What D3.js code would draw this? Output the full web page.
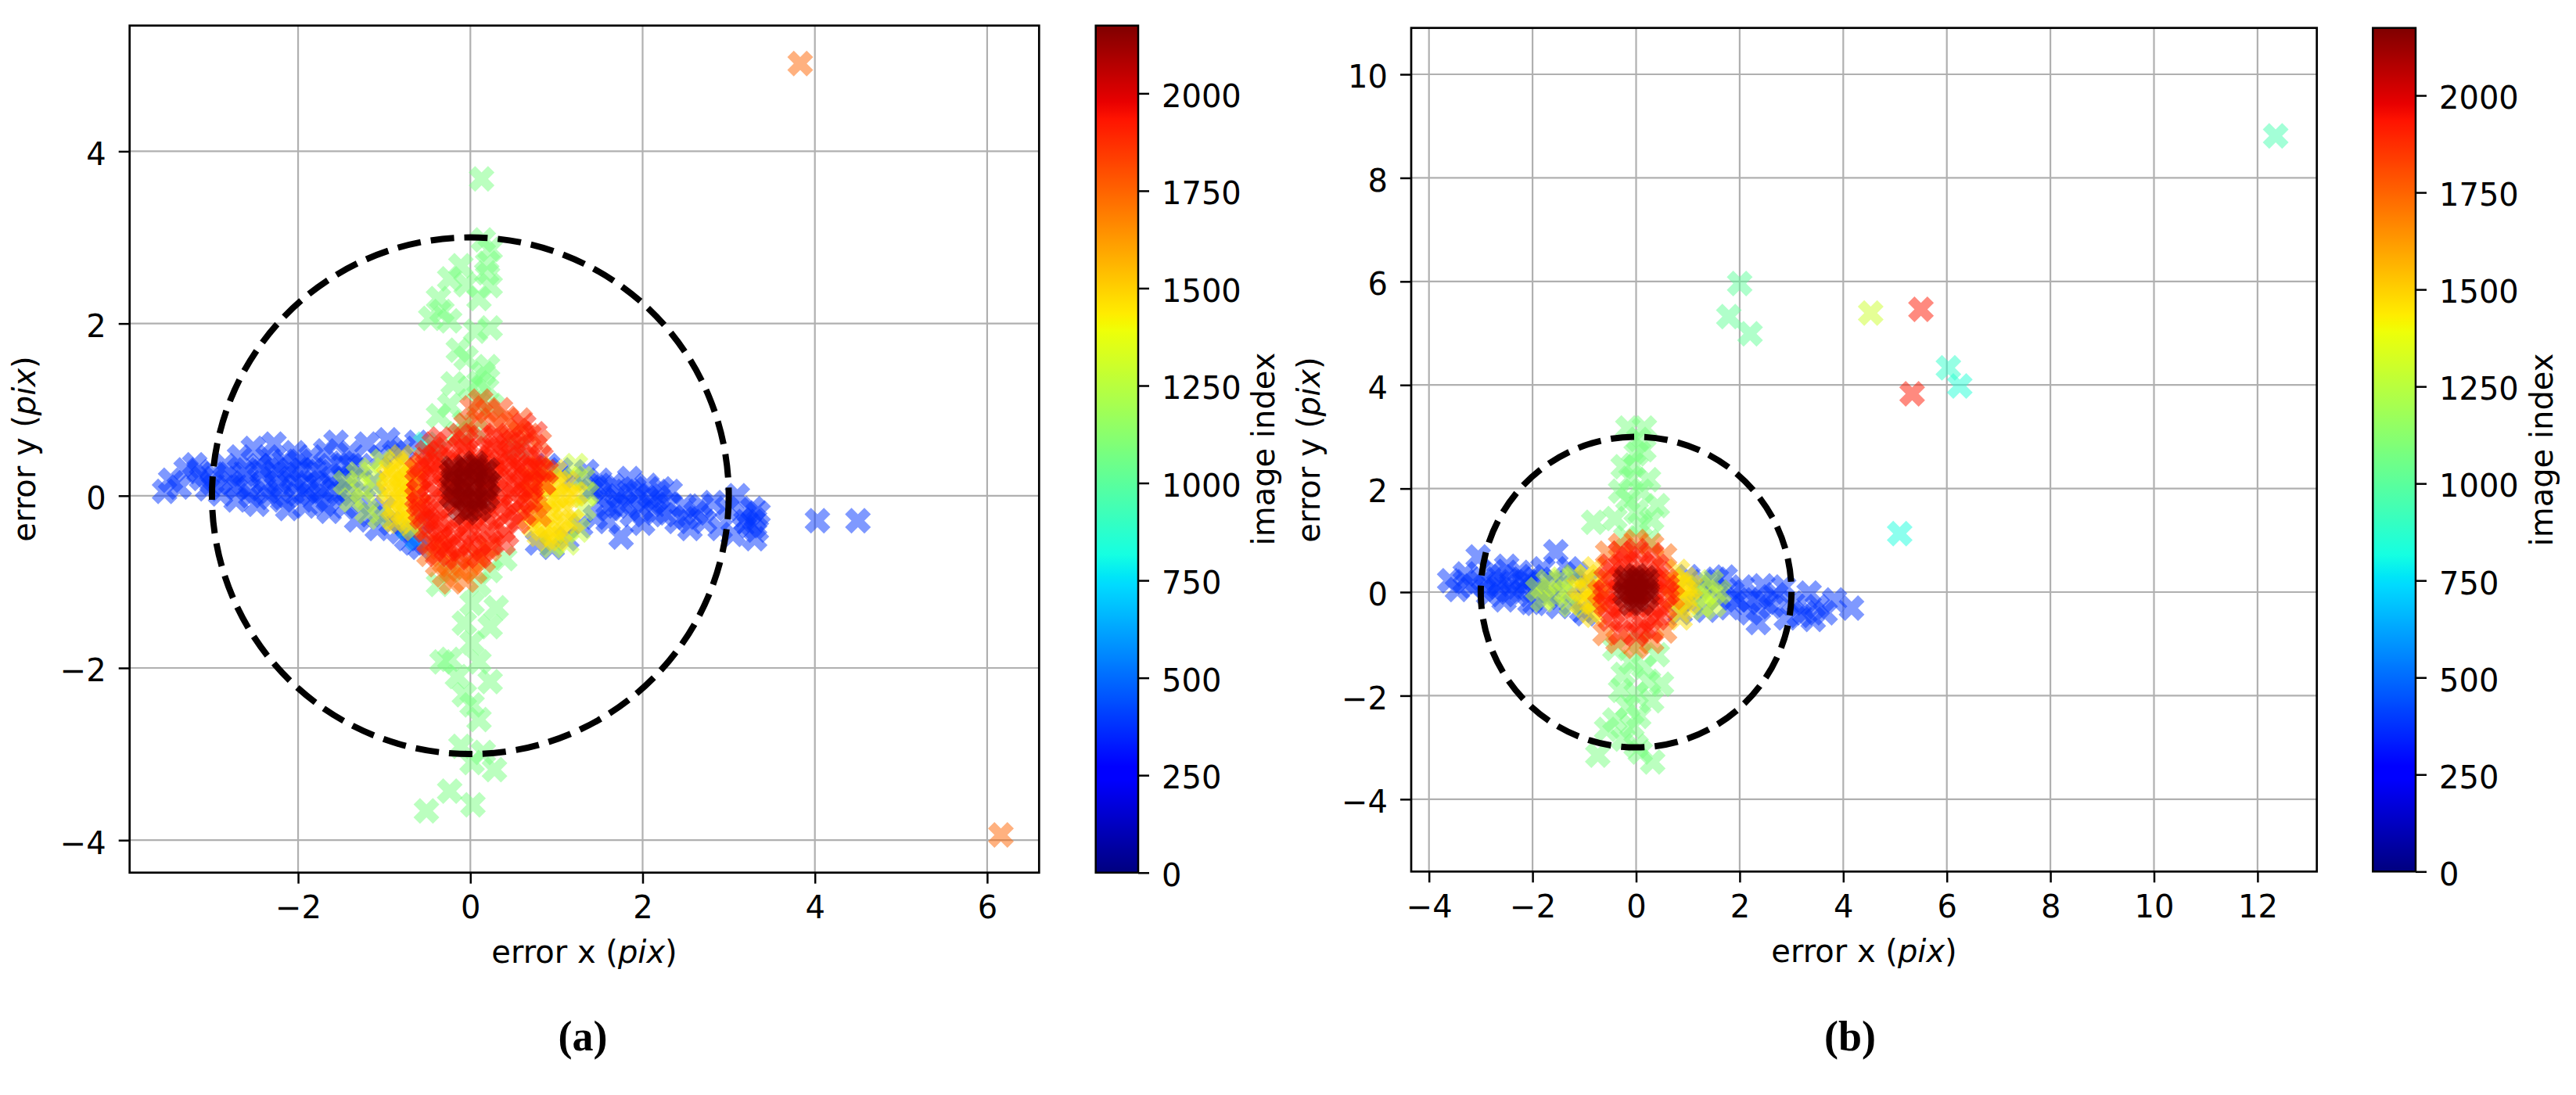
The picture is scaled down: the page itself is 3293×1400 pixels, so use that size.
<!DOCTYPE html>
<html><head><meta charset="utf-8">
<script src="https://cdn.jsdelivr.net/npm/d3@7"></script>
<style>
body{margin:0;background:#fff}
svg{display:block}
text{font-family:"DejaVu Sans",sans-serif;fill:#000}
</style>
</head><body>
<svg id="fig" width="3293" height="1400"></svg>
<script>
// ---------------- DATA ----------------
const imageIndexMax = 2174;
const circleRadius = 3;
const cbarTicks = [0,250,500,750,1000,1250,1500,1750,2000];

// panel (a)
const aXTicks = [-2,0,2,4,6];
const aYTicks = [-4,-2,0,2,4];
const aBlueIndex = 380;
const aBlue = [
 [-3.55,0.05],[-3.48,0.18],[-3.38,0.1],[-3.3,0.3],[-3.2,0.36],[-3.12,0.2],[-3.05,0.08],[-2.98,0.25],
 [-2.9,0.02],[-2.85,0.35],[-2.78,0.15],[-2.72,-0.05],[-2.68,0.45],[-2.62,0.25],[-2.58,0.08],[-2.52,0.55],
 [-2.48,-0.1],[-2.45,0.35],[-2.4,0.15],[-2.35,0.45],[-2.32,-0.02],[-2.28,0.6],[-2.25,0.25],[-2.2,0.05],
 [-2.16,0.4],[-2.12,-0.15],[-2.08,0.2],[-2.04,0.5],[-2.0,0.02],[-1.96,0.3],[-1.92,-0.12],[-1.88,0.15],
 [-1.85,0.45],[-1.8,-0.05],[-1.76,0.28],[-1.72,0.05],[-1.68,0.52],[-1.64,-0.18],[-1.6,0.2],[-1.56,0.62],
 [-1.52,0.02],[-1.48,0.38],[-1.45,-0.12],[-1.4,0.5],[-1.36,0.18],[-1.32,-0.28],[-1.28,0.35],[-1.24,-0.05],
 [-1.2,0.6],[-1.16,-0.22],[-1.12,0.15],[-1.08,-0.38],[-1.04,0.45],[-1.0,-0.15],[-0.96,0.65],[-0.92,-0.32],
 [-0.88,0.5],[-0.82,-0.42],[-0.74,-0.5],[-0.66,-0.55],[-0.58,-0.6],[-0.62,0.62],[-0.78,0.55],
 [-2.6,0.3],[-2.55,0.0],[-2.42,0.28],[-2.38,0.05],[-2.3,0.35],[-2.22,0.15],[-2.18,-0.05],[-2.1,0.3],
 [-2.02,0.12],[-1.98,0.4],[-1.9,0.05],[-1.82,0.3],[-1.78,0.12],[-1.7,-0.1],[-1.62,0.35],[-1.58,0.08],
 [-1.5,0.25],[-1.42,0.05],[-1.38,0.35],[-3.0,0.15],[-3.15,0.28],[-2.8,0.25],[-2.7,0.1],
 [0.78,-0.55],[0.9,0.35],[0.95,-0.6],[1.05,0.3],[1.12,-0.5],[1.2,0.2],[1.28,-0.35],[1.35,0.28],[1.4,0.05],[1.45,-0.25],
 [1.5,0.18],[1.55,-0.05],[1.6,-0.3],[1.65,0.12],[1.7,-0.12],[1.75,-0.48],[1.8,0.05],[1.85,0.2],[1.88,-0.22],[1.95,0.0],
 [2.0,-0.32],[2.05,0.12],[2.1,-0.1],[2.18,-0.02],[2.25,-0.22],[2.32,0.05],[2.4,-0.3],[2.48,-0.12],[2.55,-0.38],[2.62,-0.2],
 [2.72,-0.3],[2.82,-0.08],[2.9,-0.38],[2.98,-0.15],[3.05,-0.45],[3.1,0.0],[3.18,-0.22],[3.24,-0.35],[3.3,-0.5],[3.34,-0.2],[3.3,-0.28],
 [1.45,0.1],[1.55,0.1],[1.62,-0.15],[1.72,0.0],[1.8,-0.1],[1.9,0.08],[1.98,-0.15],[2.08,0.0],[2.15,-0.2],
 [2.22,0.08],[2.3,-0.1],[2.5,-0.25],[2.68,-0.12],[3.2,-0.3],[3.28,-0.15],[3.32,-0.4],
 [4.03,-0.29],[4.5,-0.29]
];
const aAzureIndex = 600;
const aAzure = [[-0.72,-0.38],[-0.62,-0.5],[-0.55,-0.3]];
const aCyanIndex = 880;
const aCyan = [[-0.52,0.6],[-0.42,0.52],[0.55,0.55]];
const aGreenIndex = 1075;
const aGreen = [
 [0.13,3.68],[0.15,2.97],[0.23,2.86],[0.19,2.59],[-0.11,2.67],[-0.24,2.52],[0.1,2.29],[0.23,2.44],[-0.37,2.29],
 [-0.46,2.06],[-0.24,2.03],[-0.33,2.14],[0.06,1.91],[0.23,1.95],[-0.14,1.69],[0.15,1.42],[0.19,1.24],[0.1,1.08],
 [-0.24,1.05],[-0.07,0.85],[-0.37,0.93],[0.1,1.31],[0.2,1.5],[-0.05,2.45],[0.2,2.7],[-0.05,1.6],[0.0,1.25],[0.25,1.05],[-0.2,1.3],
 [-0.24,-0.87],[-0.37,-1.03],[0.1,-1.03],[0.4,-0.73],[0.23,-0.87],[0.02,-1.25],[-0.07,-1.48],[0.23,-1.52],[0.02,-1.71],
 [-0.24,-1.9],[-0.33,-1.93],[0.1,-1.93],[0.23,-2.16],[-0.07,-2.31],[0.02,-2.43],[-0.11,-2.91],[0.02,-3.1],[0.28,-3.18],
 [-0.24,-3.43],[0.03,-3.59],[-0.51,-3.66],[0.15,-2.98],[0.3,-1.3],[-0.15,-2.1],[0.1,-2.6],
 [-0.15,0.72],[0.05,0.76]
];
const aLimeIndex = 1290;
const aLime = [
 [-1.45,0.15],[-1.38,-0.05],[-1.3,0.25],[-1.25,0.05],[-1.2,-0.18],[-1.15,0.3],[-1.1,0.1],[-1.05,-0.25],[-1.02,0.4],
 [1.3,0.2],[1.32,-0.15],[1.22,0.35],[1.12,-0.55],[0.95,-0.58],[1.35,0.02],[1.25,-0.4]
];
const aYellowIndex = 1470;
const aYellow = [
 [-0.95,0.05],[-0.92,0.3],[-0.9,-0.15],[-0.85,0.2],[-0.82,-0.3],[-0.8,0.45],[-0.78,-0.05],[-0.75,0.15],
 [-0.72,-0.22],[-0.7,0.35],[-0.68,0.0],[-0.65,-0.38],[-0.62,0.22],[-0.6,-0.12],
 [-0.92,0.15],[-0.88,-0.05],[-0.86,0.38],[-0.8,0.1],[-0.78,-0.2],[-0.74,0.28],[-0.72,0.05],[-0.7,-0.32],
 [-0.66,0.15],[-0.88,-0.28],[-0.95,0.22],
 [0.68,-0.25],[0.72,0.2],[0.78,-0.05],[0.8,0.32],[0.84,-0.38],[0.88,0.1],[0.9,-0.5],[0.94,-0.2],
 [0.98,0.28],[1.0,0.0],[1.04,-0.42],[1.08,-0.15],[1.12,0.15],[1.18,-0.3],[1.22,0.02],[0.86,-0.18],
 [0.7,0.05],[0.74,-0.35],[0.82,0.15],[0.9,-0.08],[0.92,0.2],[0.96,-0.38],[1.02,0.15],[1.06,-0.05],
 [1.1,-0.3],[1.15,0.0],[0.8,-0.45],[1.0,-0.5]
];
const aOrangeIndex = 1750;
const aOrange = [
 [-0.48,-0.68],[-0.38,-0.8],[-0.3,-0.92],[-0.22,-1.0],[-0.12,-0.85],[-0.05,-0.98],[0.05,-0.88],[0.15,-0.75],
 [0.22,-0.62],[-0.35,-0.6],[0.08,-0.68],[-0.15,-0.7],[-0.25,-0.78],[0.0,-0.78],[-0.42,-0.55],
 [0.75,-0.12],[0.8,-0.22],
 [3.83,5.02],[6.16,-3.94]
];
const aOrangeTopIndex = 1830;
const aOrangeTop = [
 [0.02,1.02],[0.1,0.88],[0.2,0.98],[0.3,0.82],[0.42,0.9],[0.55,0.76],[0.68,0.7],[0.8,0.62],
 [0.12,1.1],[0.58,0.88],[-0.05,0.82],[0.35,1.0],[0.48,0.68]
];
const aRedIndex = 1930;
const aRed = [
 [-0.35,0.66],[-0.12,0.7],[0.12,0.68],[0.38,0.64],[0.6,0.6],
 [-0.5,0.5],[-0.28,0.54],[-0.05,0.52],[0.2,0.55],[0.45,0.5],[0.7,0.48],[0.82,0.44],
 [-0.56,0.36],[-0.35,0.38],[-0.12,0.35],[0.1,0.37],[0.32,0.36],[0.55,0.34],[0.75,0.32],[0.88,0.28],
 [-0.6,0.2],[-0.42,0.22],[-0.22,0.18],[0.02,0.2],[0.25,0.22],[0.45,0.18],[0.65,0.2],[0.85,0.15],
 [-0.6,0.05],[-0.4,0.03],[-0.18,0.06],[0.05,0.04],[0.3,0.06],[0.5,0.02],[0.7,0.05],
 [-0.6,-0.1],[-0.38,-0.12],[-0.15,-0.08],[0.1,-0.1],[0.35,-0.12],[0.58,-0.08],
 [-0.56,-0.25],[-0.35,-0.27],[-0.1,-0.24],[0.15,-0.26],[0.4,-0.25],[0.55,-0.3],
 [-0.52,-0.4],[-0.3,-0.42],[-0.05,-0.4],[0.2,-0.42],[0.42,-0.45],
 [-0.48,-0.55],[-0.25,-0.58],[0.0,-0.55],[0.25,-0.55],
 [-0.38,-0.68],[-0.15,-0.72],[0.1,-0.7],
 [0.75,0.72],[0.62,0.82],
 [-0.45,0.3],[-0.25,0.1],[0.0,0.3],[0.2,0.05],[0.4,0.28],[0.6,0.12],[-0.5,-0.18],[-0.2,-0.35],
 [0.05,-0.2],[0.3,-0.35],[-0.35,-0.5],[-0.1,-0.62],[0.5,0.4],[-0.4,0.45],[0.25,0.45],[0.7,-0.05],
 [-0.62,0.3],[-0.62,-0.02],[-0.58,-0.18],[-0.48,0.12],[-0.46,-0.32],[-0.42,0.6],[-0.3,0.25],[-0.3,-0.05],
 [-0.28,-0.62],[-0.2,0.42],[-0.18,-0.48],[-0.05,0.62],[-0.02,-0.32],[0.08,0.45],[0.15,-0.62],[0.18,0.12],
 [0.22,-0.18],[0.28,0.58],[0.35,-0.02],[0.38,-0.55],[0.45,0.42],[0.48,-0.18],[0.52,0.1],[0.6,0.3],
 [0.62,-0.2],[0.68,0.38],[0.72,0.12],[0.8,0.3],[0.5,0.62],[-0.52,0.42],[0.3,0.7],[0.05,-0.45],
 [-0.4,-0.3],[0.25,0.32],[-0.1,0.58]
];
const aDarkIndex = 2150;
const aDark = [
 [-0.18,0.3],[-0.06,0.34],[0.06,0.34],[0.17,0.28],
 [-0.2,0.2],[-0.08,0.24],[0.04,0.22],[0.16,0.2],
 [-0.2,0.08],[-0.08,0.1],[0.04,0.1],[0.18,0.08],
 [-0.18,-0.04],[-0.06,-0.02],[0.06,-0.03],[0.16,-0.06],
 [-0.12,-0.14],[0.0,-0.15],[0.1,-0.16],
 [-0.14,0.15],[0.1,0.28],[0.0,0.05],[-0.02,0.3],[0.1,-0.08],[-0.1,0.0],[0.22,0.14],[-0.22,0.26],
 [-0.22,0.0],[0.2,0.0],[-0.2,0.32],[0.2,0.3],[-0.05,-0.2],[0.06,0.38]
];

// panel (b)
const bXTicks = [-4,-2,0,2,4,6,8,10,12];
const bYTicks = [-4,-2,0,2,4,6,8,10];
const bBlueIndex = 380;
const bBlue = [
 [-3.6,0.22],[-3.45,0.05],[-3.3,0.35],[-3.15,0.12],[-3.05,0.68],[-2.95,0.25],[-2.85,-0.05],[-2.75,0.4],
 [-2.65,0.15],[-2.55,-0.15],[-2.5,0.5],[-2.4,0.2],[-2.3,-0.05],[-2.25,0.38],[-2.15,0.1],[-2.05,-0.2],
 [-2.0,0.3],[-1.9,0.05],[-1.8,0.45],[-1.72,-0.1],[-1.6,0.25],[-1.55,0.78],[-1.5,-0.28],[-1.4,0.15],
 [-1.3,0.45],[-1.25,-0.2],[-1.15,0.35],[-1.05,-0.35],[-0.95,0.2],[-0.98,-0.42],[-2.7,0.05],[-2.2,0.25],
 [-1.95,-0.22],[-3.3,0.2],[-2.9,0.1],[-2.6,0.3],[-2.45,0.0],[-2.1,0.2],[-1.85,0.15],[-1.65,0.0],
 [0.85,-0.4],[1.0,0.3],[1.06,-0.21],[1.2,0.05],[1.35,-0.35],[1.47,0.1],[1.6,-0.12],[1.72,0.29],[1.8,-0.3],
 [1.96,-0.15],[2.05,0.1],[2.2,-0.4],[2.36,-0.09],[2.45,0.12],[2.61,-0.28],[2.7,-0.05],[2.85,0.1],[3.02,-0.21],
 [3.15,-0.45],[3.26,-0.4],[3.34,-0.02],[3.42,-0.53],[3.5,-0.28],[3.65,-0.4],[3.83,-0.15],[4.16,-0.31],
 [2.36,-0.59],[2.9,-0.5],[1.55,0.25],[1.3,0.2],[1.85,0.0],[2.15,-0.2],[2.5,-0.2]
];
const bGreenIndex = 1075;
const bGreen = [
 [-0.16,3.17],[0.16,3.17],[0.0,2.67],[-0.25,2.42],[0.24,2.17],[0.41,1.67],[-0.16,1.79],[-0.82,1.35],
 [-0.41,1.42],[0.08,1.29],[0.24,0.98],[0.05,2.95],[-0.1,2.2],[0.1,1.95],[0.0,1.55],[-0.2,1.05],[0.3,1.4],
 [-0.05,2.45],[0.15,2.75],[-0.3,1.95],
 [-0.41,-1.09],[0.08,-0.96],[0.41,-1.21],[-0.25,-1.59],[0.24,-1.72],[0.49,-1.78],[0.0,-1.97],[-0.16,-2.22],
 [-0.41,-2.47],[-0.57,-2.65],[-0.08,-2.59],[-0.25,-2.84],[0.0,-2.97],[-0.74,-3.15],[0.32,-3.28],[0.08,-3.09],
 [-0.1,-1.35],[0.15,-1.45],[0.3,-2.1],[-0.3,-1.9],[0.05,-2.4]
];
const bLimeIndex = 1290;
const bLime = [
 [-1.9,0.05],[-1.7,0.2],[-1.55,-0.1],[-1.45,0.25],[-1.35,0.0],[-1.25,-0.25],[-1.2,0.3],[-1.8,-0.15],
 [1.2,0.1],[1.35,-0.1],[1.45,0.2],[1.5,-0.25],[1.3,-0.3],[1.6,0.0]
];
const bYellowIndex = 1470;
const bYellow = [
 [-1.1,0.1],[-1.05,-0.2],[-0.95,0.3],[-0.9,-0.35],[-0.85,0.05],[-0.8,0.45],[-0.75,-0.15],[-0.7,0.2],[-0.8,-0.45],
 [0.7,0.2],[0.75,-0.15],[0.8,0.4],[0.85,-0.35],[0.9,0.05],[0.95,0.25],[1.0,-0.2],[1.05,0.1],[0.85,-0.5],
 [-0.95,0.0],[-0.85,-0.2],[0.85,0.15],[0.95,-0.1]
];
const bOrangeIndex = 1750;
const bOrange = [
 [-0.55,0.75],[-0.3,0.9],[0.0,0.98],[0.3,0.9],[0.55,0.7],[-0.6,-0.8],[-0.35,-0.95],[0.0,-1.05],
 [0.3,-0.95],[0.55,-0.75],[-0.7,0.0],[0.7,-0.1]
];
const bRedIndex = 1930;
const bRed = [
 [-0.3,0.75],[0.0,0.8],[0.3,0.72],
 [-0.5,0.5],[-0.2,0.55],[0.1,0.55],[0.4,0.5],
 [-0.58,0.25],[-0.3,0.28],[0.0,0.3],[0.3,0.25],[0.58,0.22],
 [-0.6,0.0],[-0.3,0.02],[0.0,0.0],[0.3,0.0],[0.6,-0.02],
 [-0.58,-0.25],[-0.3,-0.28],[0.0,-0.25],[0.3,-0.27],[0.55,-0.3],
 [-0.5,-0.52],[-0.2,-0.55],[0.1,-0.55],[0.4,-0.5],
 [-0.3,-0.78],[0.0,-0.82],[0.28,-0.75],
 [-0.45,0.38],[0.45,0.35],[-0.45,-0.4],[0.45,-0.4],[-0.15,0.65],[0.15,-0.68],[0.6,0.1],[-0.6,-0.12]
];
const bDarkIndex = 2150;
const bDark = [
 [-0.18,0.28],[0.0,0.32],[0.18,0.28],[-0.2,0.1],[0.0,0.12],[0.2,0.1],[-0.18,-0.08],[0.0,-0.06],
 [0.2,-0.1],[-0.1,-0.22],[0.1,-0.22],[-0.1,0.2],[0.1,0.2],[0.08,0.02],[-0.08,0.0],[0.0,0.22],[0.0,-0.15],
 [-0.22,0.2],[0.22,0.2],[-0.22,-0.02],[0.22,0.0]
];
// isolated points: [x, y, image index]
const bOutliers = [
 [12.35,8.81,950],[2.0,5.96,1010],[1.79,5.32,1020],[2.2,4.99,1020],[4.53,5.39,1300],
 [5.5,5.46,1930],[5.33,3.83,1930],[6.03,4.33,880],[6.25,3.98,850],[5.09,1.13,830]
];

// ---------------- RENDERING ----------------
function jet(t){
  t = Math.max(0, Math.min(1, t));
  let r = t<0.35?0 : t<0.66?(t-0.35)/0.31 : t<0.89?1 : 1-0.5*(t-0.89)/0.11;
  let g = t<0.125?0 : t<0.375?(t-0.125)/0.25 : t<0.64?1 : t<0.91?1-(t-0.64)/0.27 : 0;
  let b = t<0.11?0.5+0.5*t/0.11 : t<0.34?1 : t<0.65?1-(t-0.34)/0.31 : 0;
  return d3.rgb(r*255, g*255, b*255).formatHex();
}
const fmt = d => d < 0 ? "\u2212" + Math.abs(d) : String(d);
const svg = d3.select("#fig");
const defs = svg.append("defs");
const s = 8.25;
const xMarker = "M" + [[-1,-2],[0,-1],[1,-2],[2,-1],[1,0],[2,1],[1,2],[0,1],[-1,2],[-2,1],[-1,0],[-2,-1]]
  .map(p => (p[0]*s)+","+(p[1]*s)).join("L") + "Z";

function panel(cfg, id){
  const f = cfg.frame;
  const x = d3.scaleLinear().domain(cfg.xDom).range([f.x0, f.x1]);
  const y = d3.scaleLinear().domain(cfg.yDom).range([f.y1, f.y0]);
  const g = svg.append("g");
  defs.append("clipPath").attr("id","clip"+id).append("rect")
    .attr("x",f.x0).attr("y",f.y0).attr("width",f.x1-f.x0).attr("height",f.y1-f.y0);
  // grid
  const grid = g.append("g").attr("stroke","#b0b0b0").attr("stroke-width",2.2);
  grid.selectAll("line.gx").data(cfg.xTicks).join("line").attr("class","gx")
    .attr("x1",d=>x(d)).attr("x2",d=>x(d)).attr("y1",f.y0).attr("y2",f.y1);
  grid.selectAll("line.gy").data(cfg.yTicks).join("line").attr("class","gy")
    .attr("y1",d=>y(d)).attr("y2",d=>y(d)).attr("x1",f.x0).attr("x2",f.x1);
  // points
  let pts = [];
  cfg.groups.forEach(gr => gr.pts.forEach(p => pts.push({x:p[0], y:p[1], idx:gr.idx})));
  cfg.outliers.forEach(p => pts.push({x:p[0], y:p[1], idx:p[2]}));
  pts.sort((a,b)=>a.idx-b.idx);
  const cs = d3.scaleLinear().domain([0, imageIndexMax]).range([0,1]);
  g.append("g").attr("clip-path","url(#clip"+id+")")
    .selectAll("path").data(pts).join("path")
    .attr("d", xMarker)
    .attr("transform", d => `translate(${x(d.x)},${y(d.y)})`)
    .attr("fill", d => jet(cs(d.idx)))
    .attr("fill-opacity", 0.5);
  // circle
  g.append("ellipse").attr("cx",x(0)).attr("cy",y(0))
    .attr("rx",x(circleRadius)-x(0)).attr("ry",y(0)-y(circleRadius))
    .attr("fill","none").attr("stroke","#000").attr("stroke-width",8)
    .attr("stroke-dasharray","30,13");
  // axes
  const ax = g.append("g").attr("transform",`translate(0,${f.y1})`)
    .call(d3.axisBottom(x).tickValues(cfg.xTicks).tickFormat(fmt).tickSize(14).tickPadding(16).tickSizeOuter(0));
  const ay = g.append("g").attr("transform",`translate(${f.x0},0)`)
    .call(d3.axisLeft(y).tickValues(cfg.yTicks).tickFormat(fmt).tickSize(14).tickPadding(16).tickSizeOuter(0));
  [ax, ay].forEach(a => {
    a.select(".domain").remove();
    a.selectAll("line").attr("stroke","#000").attr("stroke-width",2.5);
    a.selectAll("text").attr("font-size",40).attr("font-family","DejaVu Sans").attr("fill","#000");
  });
  ay.selectAll("text").attr("dy","0.42em");
  g.append("rect").attr("x",f.x0).attr("y",f.y0).attr("width",f.x1-f.x0).attr("height",f.y1-f.y0)
    .attr("fill","none").attr("stroke","#000").attr("stroke-width",2.7);
  // axis labels
  const xl = g.append("text").attr("x",cfg.xLab[0]).attr("y",cfg.xLab[1]).attr("text-anchor","middle").attr("font-size",40);
  xl.append("tspan").text("error x (");
  xl.append("tspan").attr("font-style","italic").text("pix");
  xl.append("tspan").text(")");
  const yl = g.append("text").attr("transform",`translate(${cfg.yLab[0]},${cfg.yLab[1]}) rotate(-90)`)
    .attr("text-anchor","middle").attr("font-size",40);
  yl.append("tspan").text("error y (");
  yl.append("tspan").attr("font-style","italic").text("pix");
  yl.append("tspan").text(")");
  // colorbar
  const c = cfg.cbar;
  const gid = "jet"+id;
  const lg = defs.append("linearGradient").attr("id",gid).attr("x1",0).attr("y1",1).attr("x2",0).attr("y2",0);
  d3.range(0,1.0001,0.005).forEach(t => lg.append("stop").attr("offset",t).attr("stop-color",jet(t)));
  const cy = d3.scaleLinear().domain([0, imageIndexMax]).range([c.y1, c.y0]);
  g.append("rect").attr("x",c.x0).attr("y",c.y0).attr("width",c.x1-c.x0).attr("height",c.y1-c.y0)
    .attr("fill",`url(#${gid})`).attr("stroke","#000").attr("stroke-width",2.5);
  const ac = g.append("g").attr("transform",`translate(${c.x1},0)`)
    .call(d3.axisRight(cy).tickValues(cbarTicks).tickFormat(d3.format("d")).tickSize(14).tickPadding(16).tickSizeOuter(0));
  ac.select(".domain").remove();
  ac.selectAll("line").attr("stroke","#000").attr("stroke-width",2.5);
  ac.selectAll("text").attr("font-size",40).attr("font-family","DejaVu Sans").attr("fill","#000").attr("dy","0.42em");
  g.append("text").attr("transform",`translate(${c.lab[0]},${c.lab[1]}) rotate(-90)`)
    .attr("text-anchor","middle").attr("font-size",40).text("image index");
  // subfigure label
  g.append("text").attr("x",cfg.sub[0]).attr("y",cfg.sub[1]).attr("text-anchor","middle")
    .attr("font-weight","bold").attr("font-size",54)
    .style("font-family","'Liberation Serif',serif").text(cfg.subText);
}

panel({
  frame:{x0:165.7,x1:1328.3,y0:32.7,y1:1115.7},
  xDom:[-3.956,6.603], yDom:[-4.377,5.46],
  xTicks:aXTicks, yTicks:aYTicks,
  groups:[
    {pts:aBlue, idx:aBlueIndex},{pts:aAzure, idx:aAzureIndex},{pts:aCyan, idx:aCyanIndex},
    {pts:aGreen, idx:aGreenIndex},{pts:aLime, idx:aLimeIndex},{pts:aYellow, idx:aYellowIndex},
    {pts:aOrange, idx:aOrangeIndex},{pts:aOrangeTop, idx:aOrangeTopIndex},
    {pts:aRed, idx:aRedIndex},{pts:aDark, idx:aDarkIndex}
  ],
  outliers:[],
  cbar:{x0:1400.7,x1:1455,y0:32.7,y1:1115.7,lab:[1629,574]},
  xLab:[747,1231], yLab:[45,574], sub:[745,1343], subText:"(a)"
}, "a");

panel({
  frame:{x0:1804,x1:2961.7,y0:35.7,y1:1114.3},
  xDom:[-4.343,13.145], yDom:[-5.397,10.896],
  xTicks:bXTicks, yTicks:bYTicks,
  groups:[
    {pts:bBlue, idx:bBlueIndex},{pts:bGreen, idx:bGreenIndex},{pts:bLime, idx:bLimeIndex},
    {pts:bYellow, idx:bYellowIndex},{pts:bOrange, idx:bOrangeIndex},{pts:bRed, idx:bRedIndex},
    {pts:bDark, idx:bDarkIndex}
  ],
  outliers:bOutliers,
  cbar:{x0:3033.3,x1:3088,y0:35.7,y1:1114.3,lab:[3263,575]},
  xLab:[2383,1230], yLab:[1687,575], sub:[2365,1343], subText:"(b)"
}, "b");
</script>
</body></html>
